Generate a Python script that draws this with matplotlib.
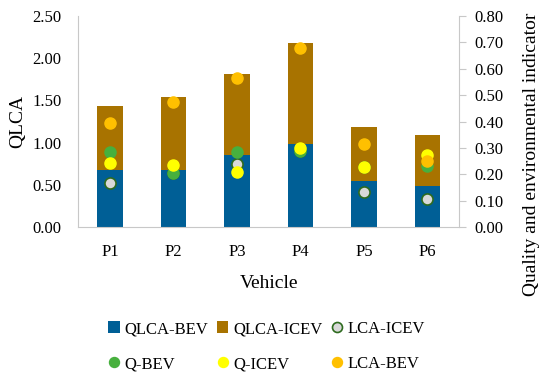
import numpy as np
import matplotlib.pyplot as plt

plt.rcParams['font.family'] = ['Liberation Serif', 'DejaVu Serif']

vehicles = ["P1", "P2", "P3", "P4", "P5", "P6"]

# stacked bars (left axis)
qlca_bev = [0.68, 0.68, 0.85, 0.98, 0.55, 0.49]
qlca_icev = [0.76, 0.86, 0.96, 1.20, 0.64, 0.60]

# indicators (right axis)
lca_icev = [0.167, 0.205, 0.239, 0.290, 0.132, 0.106]
q_bev = [0.283, 0.205, 0.284, 0.290, 0.229, 0.233]
q_icev = [0.242, 0.237, 0.209, 0.300, 0.229, 0.273]
lca_bev = [0.394, 0.473, 0.567, 0.680, 0.314, 0.252]

x = np.arange(len(vehicles))

fig = plt.figure(figsize=(5.5, 3.73), dpi=100)
ax = fig.add_axes([0.142, 0.391, 0.693, 0.566])

ax.bar(x, qlca_bev, width=0.4, color="#005f96", label="QLCA-BEV")
ax.bar(x, qlca_icev, width=0.4, bottom=qlca_bev, color="#a87300", label="QLCA-ICEV")
ax.set_ylim(0, 2.5)
ax.set_xlim(-0.5, 5.5)
ax.set_yticks(np.arange(0, 2.51, 0.5))
ax.set_yticklabels([f"{v:.2f}" for v in np.arange(0, 2.51, 0.5)])
ax.set_xticks(x)
ax.set_xticklabels(vehicles)
ax.set_ylabel("QLCA", fontsize=14, labelpad=4)
ax.set_xlabel("Vehicle", fontsize=14, labelpad=11)
ax.tick_params(axis="y", length=0, labelsize=12, pad=12)
ax.tick_params(axis="x", length=0, labelsize=12, pad=12)
for s in ["top", "right"]:
    ax.spines[s].set_visible(False)
ax.spines["left"].set_color("#c8c8c8")
ax.spines["bottom"].set_color("#c8c8c8")

ax2 = ax.twinx()
ms = 8
ax2.plot(x, lca_icev, "o", ms=ms, color="#d9d9d9", mec="#2e6b1f", mew=1.2,
         linestyle="none", label="LCA-ICEV")
ax2.plot(x, q_bev, "o", ms=ms, color="#47b03e", mec="#47b03e", linestyle="none", label="Q-BEV")
ax2.plot(x, q_icev, "o", ms=ms, color="#ffff00", mec="#ffff00", linestyle="none", label="Q-ICEV")
ax2.plot(x, lca_bev, "o", ms=ms, color="#ffc000", mec="#ffc000", linestyle="none", label="LCA-BEV")
ax2.set_ylim(0, 0.8)
ax2.set_yticks(np.arange(0, 0.81, 0.1))
ax2.set_yticklabels([f"{v:.2f}" for v in np.arange(0, 0.81, 0.1)])
ax2.tick_params(axis="y", labelsize=12, color="#c8c8c8", length=5, pad=6)
for s in ["top", "left", "bottom"]:
    ax2.spines[s].set_visible(False)
ax2.spines["right"].set_color("#c8c8c8")
fig.text(532 / 550, 1 - 154 / 373, "Quality and environmental indicator",
         rotation=90, ha="center", va="center", fontsize=14)

h1, l1 = ax.get_legend_handles_labels()
h2, l2 = ax2.get_legend_handles_labels()
handles = h1 + h2
labels = l1 + l2
# legend fills column-wise, reorder so rows read like the reference
order = [0, 3, 1, 4, 2, 5]
fig.legend([handles[i] for i in order], [labels[i] for i in order],
           loc="lower left", bbox_to_anchor=(0.169, -0.038), ncol=3,
           frameon=False, fontsize=12, handlelength=0.7, handletextpad=0.3,
           columnspacing=0.5, labelspacing=1.15, markerscale=0.9)

fig.savefig("out.png", dpi=100)
